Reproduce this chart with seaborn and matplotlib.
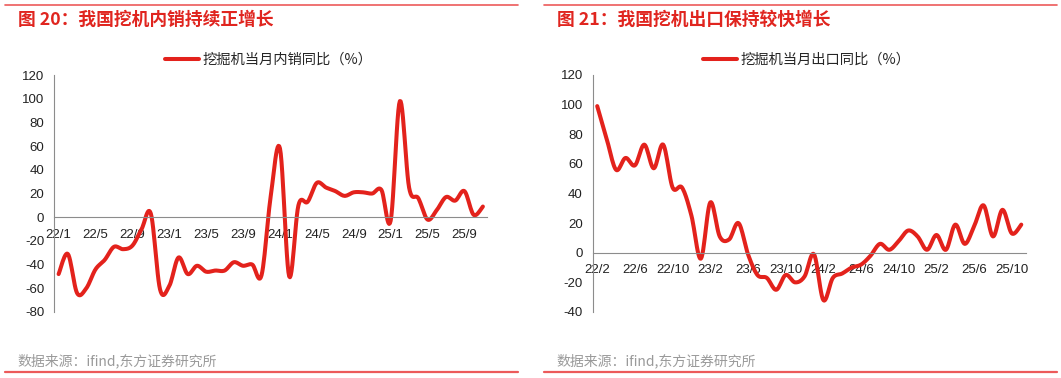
import matplotlib

matplotlib.use("Agg")

import matplotlib.pyplot as plt
import numpy as np
import pandas as pd
import seaborn as sns
from matplotlib.lines import Line2D

# ---- data ----
DOMESTIC_MONTHS = [f"{y}/{m}" for y in (22, 23, 24, 25) for m in range(1, 13)][:47]  # 22/1 .. 25/11
DOMESTIC_YOY = [
    -48, -31, -64, -60, -44, -36, -25, -27, -24, -10, 3, -61,
    -58, -34, -48, -41, -46, -45, -45, -38, -41, -40, -49, 18,
    58, -50, 10, 13, 29, 25, 22, 18, 21, 21, 20, 23,
    -3, 98, 25, 16, -2, 6, 17, 14, 22, 2, 9,
]
EXPORT_MONTHS = [f"{y}/{m}" for y in (22, 23, 24, 25) for m in range(1, 13)][1:47]  # 22/2 .. 25/11
EXPORT_YOY = [
    99, 77, 56, 64, 59, 73, 57, 73, 44, 44, 25,
    -4, 34, 11, 9, 20, -1, -15, -17, -25, -15, -20, -16,
    -1, -32, -17, -14, -10, -8, -2, 6, 2, 8, 15, 11,
    2, 12, 2, 19, 6, 18, 32, 11, 29, 13, 19,
]

TITLES = ["图 20：我国挖机内销持续正增长", "图 21：我国挖机出口保持较快增长"]
LEGENDS = ["挖掘机当月内销同比（%）", "挖掘机当月出口同比（%）"]
SOURCE = "数据来源：ifind,东方证券研究所"

RED = "#E3221C"
TITLE_RED = "#E0251F"
RULE_RED = "#EC5A5A"
AXIS_GRAY = "#8C8C8C"
W, H = 1061, 378


def smooth(y, n=12):
    # Excel style smoothed line (Catmull-Rom through every data point)
    y = np.asarray(y, float)
    x = np.arange(len(y), dtype=float)
    px = np.concatenate([[x[0]], x, [x[-1]]])
    py = np.concatenate([[y[0]], y, [y[-1]]])
    xs, ys = [], []
    for i in range(1, len(px) - 2):
        t = np.linspace(0, 1, n, endpoint=False)
        for arr, out in ((px, xs), (py, ys)):
            p0, p1, p2, p3 = arr[i - 1], arr[i], arr[i + 1], arr[i + 2]
            out.append(0.5 * (2 * p1 + (-p0 + p2) * t + (2 * p0 - 5 * p1 + 4 * p2 - p3) * t**2
                              + (-p0 + 3 * p1 - 3 * p2 + p3) * t**3))
    xs.append([x[-1]])
    ys.append([y[-1]])
    return np.concatenate(xs), np.concatenate(ys)


def fig_box(x0, x1, y0, y1):
    return [x0 / W, 1 - y1 / H, (x1 - x0) / W, (y1 - y0) / H]


def panel(fig, box, months, values, ylim, yticks, title, legend, px_left, legend_x, rule):
    ax = fig.add_axes(box)
    sx, sy = smooth(values)
    df = pd.DataFrame({"x": sx, "y": sy})
    sns.lineplot(data=df, x="x", y="y", ax=ax, color=RED, linewidth=2.9, sort=False,
                 estimator=None, solid_capstyle="round")
    n = len(values)
    ax.set_xlim(-0.5, n - 0.5)
    ax.set_ylim(*ylim)
    ax.set_yticks(yticks)
    ax.set_yticklabels([str(v) for v in yticks])
    ax.set_xticks(np.arange(0, n, 4) - 0.5)
    ax.set_xticklabels([])
    ax.set_xticks(np.arange(0, n, 4), minor=True)
    ax.set_xticklabels([months[i] for i in range(0, n, 4)], minor=True)
    ax.tick_params(axis="x", which="major", direction="out", length=4, width=0.8, color=AXIS_GRAY)
    ax.tick_params(axis="x", which="minor", length=0, pad=8.2, labelsize=9.5, labelcolor="#222222")
    ax.tick_params(axis="y", direction="out", length=4, width=0.8, color=AXIS_GRAY,
                   labelsize=9.5, labelcolor="#222222", pad=3)
    ax.set_xlabel("")
    ax.set_ylabel("")
    for s in ("top", "right"):
        ax.spines[s].set_visible(False)
    ax.spines["left"].set_color(AXIS_GRAY)
    ax.spines["bottom"].set_color(AXIS_GRAY)
    ax.spines["left"].set_linewidth(0.8)
    ax.spines["bottom"].set_linewidth(0.8)
    ax.spines["bottom"].set_position(("data", 0))
    ax.grid(False)
    ax.set_facecolor("none")

    fig.text(px_left / W, 1 - 20 / H, title, color=TITLE_RED, fontsize=12.8, fontweight="bold",
             va="center", ha="left", family=["Noto Sans CJK SC", "DejaVu Sans"])
    handle = Line2D([], [], color=RED, linewidth=2.9)
    fig.legend([handle], [legend], loc="center left", bbox_to_anchor=(legend_x / W, 1 - 60 / H),
               frameon=False, borderpad=0, borderaxespad=0, handlelength=2.4, handletextpad=0.25,
               prop={"family": ["Noto Sans CJK SC"], "size": 10.3})
    fig.add_artist(Line2D([rule[0] / W, rule[1] / W], [1 - 5 / H, 1 - 5 / H], color=RULE_RED, linewidth=1.2))
    fig.add_artist(Line2D([rule[0] / W, rule[1] / W], [1 - 372 / H, 1 - 372 / H], color=RULE_RED, linewidth=1.6))
    fig.text((px_left - 1) / W, 1 - 361 / H, SOURCE, color="#9A9A9A", fontsize=10, va="center", ha="left",
             family=["Noto Sans CJK SC", "DejaVu Sans"])
    return ax


def main() -> None:
    sns.set_theme(style="white")
    plt.rcParams["font.family"] = ["Liberation Sans", "Noto Sans CJK SC", "DejaVu Sans"]
    plt.rcParams["axes.unicode_minus"] = False

    fig = plt.figure(figsize=(W / 100, H / 100), dpi=100)
    fig.patch.set_facecolor("white")

    panel(fig, fig_box(54, 487.5, 75, 312), DOMESTIC_MONTHS, DOMESTIC_YOY, (-80, 120),
          list(range(-80, 121, 20)), TITLES[0], LEGENDS[0], 18, 165, (5, 518))
    panel(fig, fig_box(592.5, 1026, 75, 312), EXPORT_MONTHS, EXPORT_YOY, (-40, 120),
          list(range(-40, 121, 20)), TITLES[1], LEGENDS[1], 557, 703, (544, 1057))

    fig.savefig("out.png", dpi=100, facecolor="white")
    plt.close(fig)


if __name__ == "__main__":
    main()
